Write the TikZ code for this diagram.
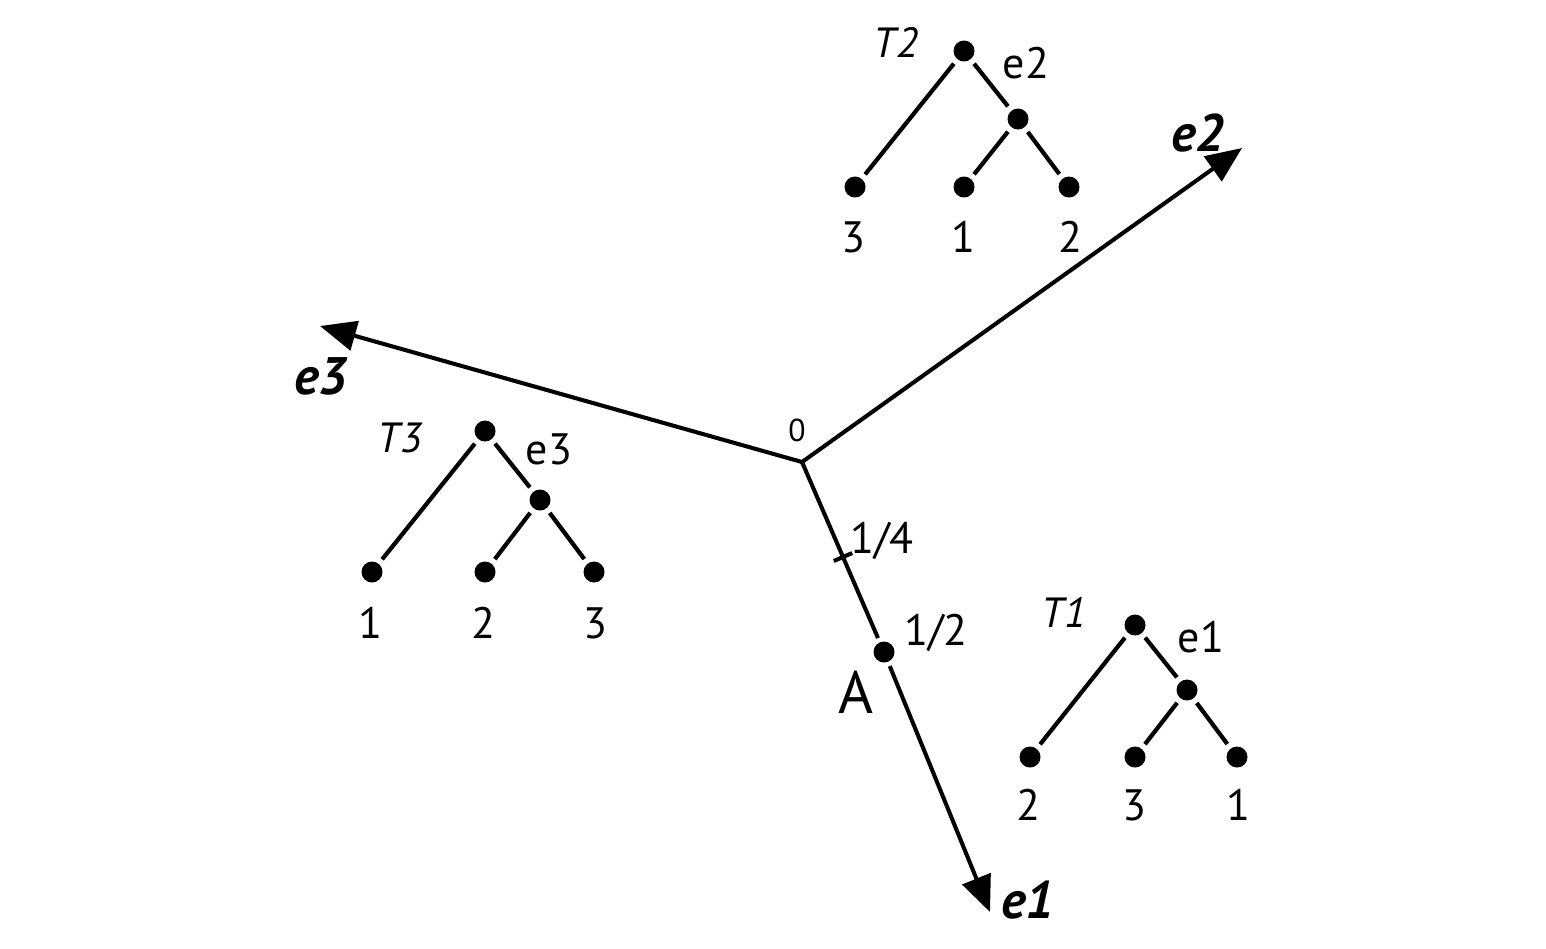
\documentclass[tikz,border=0pt]{standalone}
\usepackage{fontspec}
\setmainfont{PT Sans}
\usetikzlibrary{arrows.meta,calc}
\begin{document}
\begin{tikzpicture}[x=0.01cm,y=-0.01cm,
  dot/.style={circle,fill=black,inner sep=0pt,minimum size=0.21cm},
  edge/.style={line width=1.2pt,shorten <=0.05cm,shorten >=0.05cm},
  axis/.style={line width=1.15pt,-{Triangle[length=0.36cm,width=0.3cm]}},
  lab/.style={font=\fontsize{12.5}{15}\selectfont,inner sep=0pt},
  tlab/.style={font=\fontsize{12}{14}\selectfont\itshape,inner sep=0pt},
  elab/.style={font=\fontsize{15}{17}\selectfont\bfseries\itshape,inner sep=0pt}]
\useasboundingbox (0,0) rectangle (1546,948);
% main axes
\coordinate (O) at (802,462);
\coordinate (E2) at (1242,148);
\coordinate (E3) at (320,326);
\coordinate (E1) at (990,912);
\node[dot] (A) at (884,652) {};
\draw[axis] (O) -- (E2);
\draw[axis] (O) -- (E3);
\draw[line width=1.15pt,shorten >=0.04cm] (O) -- (A);
\draw[axis,shorten <=0.04cm] (A) -- (E1);
\coordinate (tk) at ($(O)!0.5!(884,652)$);
\draw[line width=1.15pt] ($(tk)!0.1cm!90:(A)$) -- ($(tk)!0.1cm!-90:(A)$);
\node[font=\fontsize{9}{10}\selectfont,inner sep=0pt] (l0) at (797,430) {0};
\node[lab] (l14) at (882,541) {1/4};
\node[lab] (l12) at (936,633) {1/2};
\node[font=\fontsize{17}{19}\selectfont,inner sep=0pt] (lA) at (856,692) {A};
\node[elab] (le1) at (1028,900) {e1};
\node[elab] (le2) at (1198,133) {e2};
\node[elab] (le3) at (321,376) {e3};
% Tree T2
\node[dot] (r2) at (964,51) {};
\node[dot] (m2) at (1018,119) {};
\node[dot] (a2) at (855,187) {};
\node[dot] (b2) at (964,187) {};
\node[dot] (c2) at (1069,187) {};
\draw[edge] (r2) -- (a2);
\draw[edge] (r2) -- (m2);
\draw[edge] (m2) -- (b2);
\draw[edge] (m2) -- (c2);
\node[lab] at (853,237) {3};
\node[lab] at (963,237) {1};
\node[lab] at (1070,237) {2};
\node[tlab] at (896,42) {T2};
\node[lab] at (1026,63) {e2};
% Tree T3
\node[dot] (r3) at (485,431) {};
\node[dot] (m3) at (540,500) {};
\node[dot] (a3) at (372,572) {};
\node[dot] (b3) at (485,572) {};
\node[dot] (c3) at (594,572) {};
\draw[edge] (r3) -- (a3);
\draw[edge] (r3) -- (m3);
\draw[edge] (m3) -- (b3);
\draw[edge] (m3) -- (c3);
\node[lab] at (370,623) {1};
\node[lab] at (483,623) {2};
\node[lab] at (595,623) {3};
\node[tlab] at (400,438) {T3};
\node[lab] at (549,449) {e3};
% Tree T1
\node[dot] (r1) at (1135,625) {};
\node[dot] (m1) at (1187,690) {};
\node[dot] (a1) at (1030,757) {};
\node[dot] (b1) at (1135,757) {};
\node[dot] (c1) at (1237,757) {};
\draw[edge] (r1) -- (a1);
\draw[edge] (r1) -- (m1);
\draw[edge] (m1) -- (b1);
\draw[edge] (m1) -- (c1);
\node[lab] at (1028,805) {2};
\node[lab] at (1134,805) {3};
\node[lab] at (1238,805) {1};
\node[tlab] at (1064,612) {T1};
\node[lab] at (1201,637) {e1};
\end{tikzpicture}
\end{document}
